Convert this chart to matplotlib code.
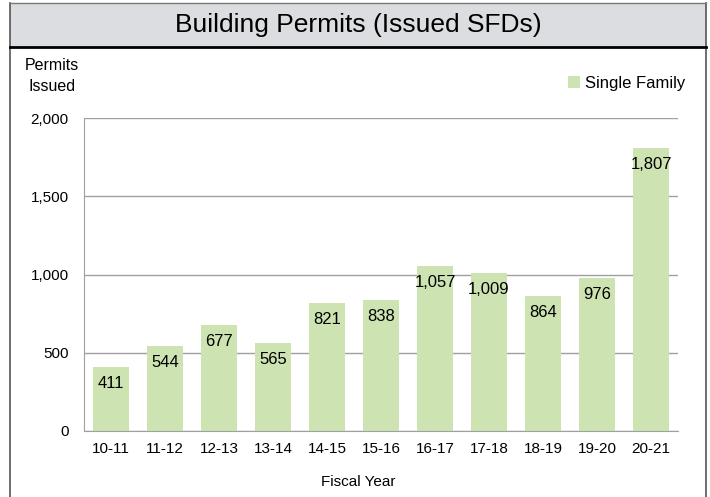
import matplotlib.pyplot as plt
from matplotlib.patches import Rectangle
from matplotlib.lines import Line2D

plt.rcParams['font.family'] = ['Liberation Sans', 'DejaVu Sans']

# data
years = ['10-11', '11-12', '12-13', '13-14', '14-15', '15-16',
         '16-17', '17-18', '18-19', '19-20', '20-21']
permits = [411, 544, 677, 565, 821, 838, 1057, 1009, 864, 976, 1807]

W, H = 710, 497
fig = plt.figure(figsize=(W / 100, H / 100), dpi=100)

# outer frame and title band
fig.patches.append(Rectangle((10 / W, 1 - 47 / H), 696 / W, 44 / H,
                             transform=fig.transFigure, facecolor='#dcdde0',
                             edgecolor='none'))
fig.lines.append(Line2D([10 / W, 10 / W], [0, 1 - 3 / H], transform=fig.transFigure,
                        color='#555555', lw=1.2))
fig.lines.append(Line2D([706 / W, 706 / W], [0, 1 - 3 / H], transform=fig.transFigure,
                        color='#555555', lw=1.2))
fig.lines.append(Line2D([10 / W, 706 / W], [1 - 3 / H, 1 - 3 / H], transform=fig.transFigure,
                        color='#777777', lw=1.0))
fig.lines.append(Line2D([10 / W, 706 / W], [1 - 47 / H, 1 - 47 / H], transform=fig.transFigure,
                        color='black', lw=2.0))
fig.text(358 / W, 1 - 25 / H, 'Building Permits (Issued SFDs)', ha='center', va='center',
         fontsize=19)

ax = fig.add_axes([84 / W, 1 - 431 / H, (678 - 84) / W, (431 - 118) / H])
x = range(len(years))
bars = ax.bar(x, permits, width=0.65, color='#cde3b2', zorder=2, label='Single Family')

for i, v in enumerate(permits):
    ax.annotate(f'{v:,}', (i, v), xytext=(0, -12), textcoords='offset points',
                ha='center', va='center', fontsize=12)

ax.set_xlim(-0.5, len(years) - 0.5)
ax.set_ylim(0, 2000)
ax.set_yticks([0, 500, 1000, 1500, 2000])
ax.set_yticklabels(['0', '500', '1,000', '1,500', '2,000'])
ax.set_xticks(list(x))
ax.set_xticklabels(years)
ax.tick_params(axis='both', length=0, labelsize=11)
ax.tick_params(axis='x', pad=8)
ax.tick_params(axis='y', pad=11)
ax.grid(axis='y', color='#a0a0a0', lw=1.0, zorder=0)
for s in ['top', 'right']:
    ax.spines[s].set_visible(False)
ax.spines['left'].set_color('#a0a0a0')
ax.spines['bottom'].set_color('#a0a0a0')

fig.text(52 / W, 1 - 76 / H, 'Permits\nIssued', ha='center', va='center', fontsize=11.5,
         linespacing=1.45)
fig.text(358 / W, 1 - 482 / H, 'Fiscal Year', ha='center', va='center', fontsize=11)

ax.legend(loc='upper right', bbox_to_anchor=(700 / W, 1 - 61 / H),
          bbox_transform=fig.transFigure, frameon=False, fontsize=12,
          handlelength=0.7, handleheight=0.7, handletextpad=0.3)

fig.savefig('out.png', dpi=100)
